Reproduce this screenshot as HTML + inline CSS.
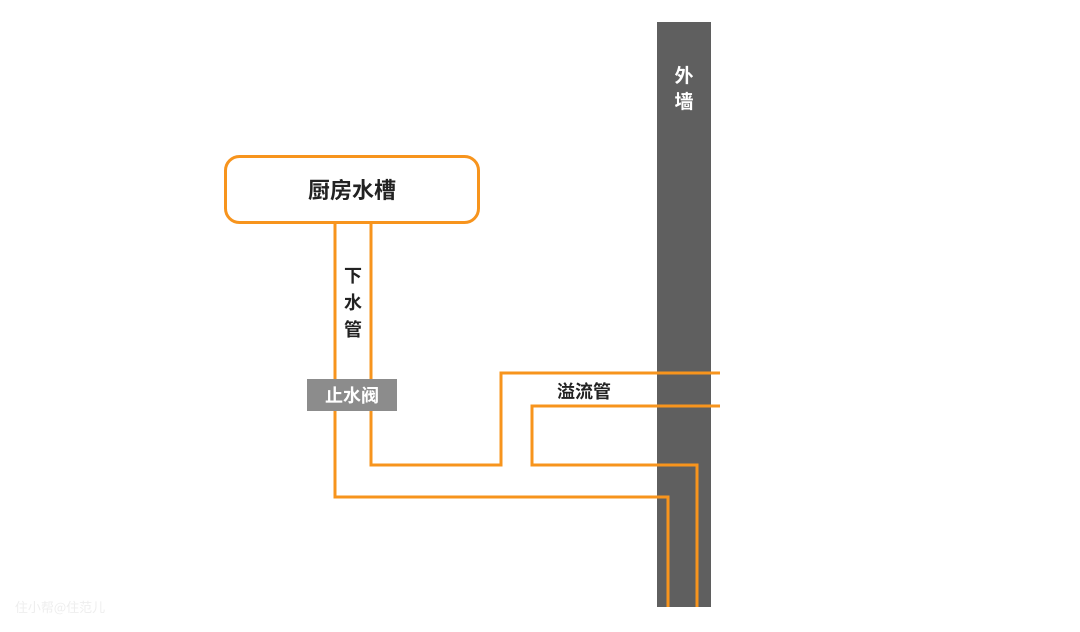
<!DOCTYPE html>
<html><head><meta charset="utf-8"><style>
body{margin:0;width:1080px;height:632px;background:#fff;overflow:hidden;font-family:"Liberation Sans","Noto Sans CJK SC",sans-serif}
</style></head><body>
<svg width="1080" height="632" viewBox="0 0 1080 632" xmlns="http://www.w3.org/2000/svg" style="position:absolute;left:0;top:0">
<rect x="657" y="22" width="54" height="585" fill="#5f5f5f"/>
<text x="684" y="82" fill="#fff" font-size="19" font-weight="bold" text-anchor="middle" font-family="Noto Sans CJK SC,sans-serif">外</text>
<text x="684" y="108" fill="#fff" font-size="19" font-weight="bold" text-anchor="middle" font-family="Noto Sans CJK SC,sans-serif">墙</text>
<rect x="225.5" y="156.5" width="253" height="66" rx="14" fill="#fff" stroke="#f7941d" stroke-width="3"/>
<text x="352" y="198" fill="#222" font-size="22" font-weight="bold" text-anchor="middle" font-family="Noto Sans CJK SC,sans-serif">厨房水槽</text>
<g fill="none" stroke="#f7941d" stroke-width="3">
<polyline points="335,224 335,497 668,497 668,607"/>
<polyline points="371,224 371,465 501,465 501,373 720,373"/>
<polyline points="720,406 532,406 532,465 697,465 697,607"/>
</g>
<g fill="#222" font-size="18" font-weight="bold" text-anchor="middle" font-family="Noto Sans CJK SC,sans-serif">
<text x="353" y="282">下</text><text x="353" y="309">水</text><text x="353" y="336">管</text>
<text x="584" y="398">溢流管</text>
</g>
<rect x="307" y="379" width="90" height="32" fill="#8c8c8c"/>
<text x="352" y="402" fill="#fff" font-size="18" font-weight="bold" text-anchor="middle" font-family="Noto Sans CJK SC,sans-serif">止水阀</text>
<text x="60" y="612" fill="#eee" font-size="13" text-anchor="middle" font-family="Noto Sans CJK SC,sans-serif">住小帮@住范儿</text>
</svg>
</body></html>
